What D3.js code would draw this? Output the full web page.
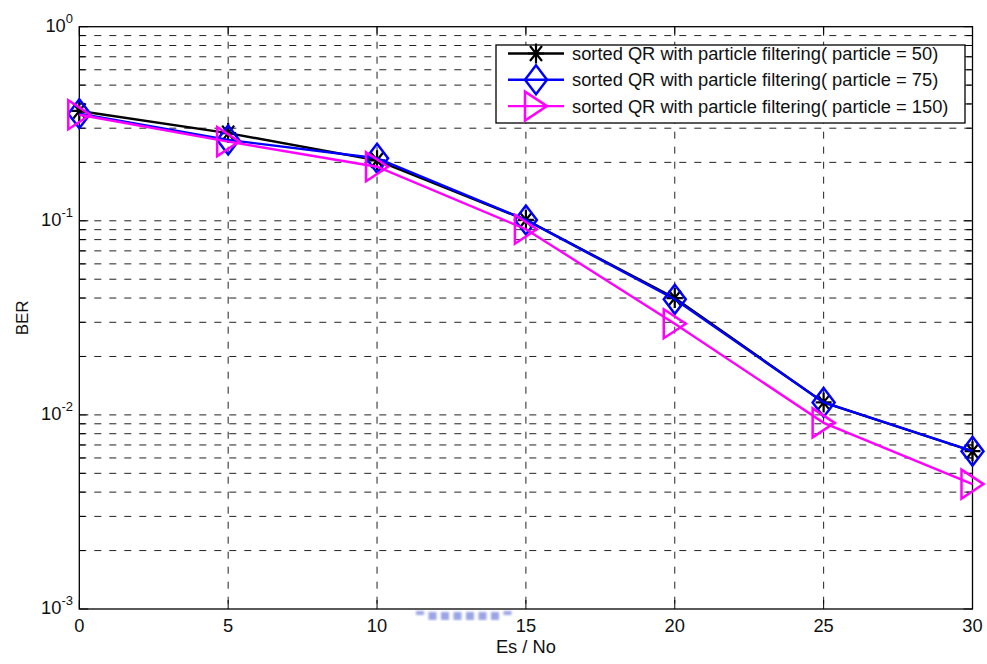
<!DOCTYPE html>
<html>
<head>
<meta charset="utf-8">
<script src="https://cdn.jsdelivr.net/npm/d3@7"></script>
<style>
  html, body { margin: 0; padding: 0; background: #fff; }
  svg text { font-family: "Liberation Sans", Arial, sans-serif; fill: #111; }
</style>
</head>
<body>
<svg id="chart" width="987" height="664"></svg>
<script>
// Es/No (dB) sample points
const snr = [0, 5, 10, 15, 20, 25, 30];
// BER for each particle count
const ber50  = [0.368, 0.283, 0.205, 0.101, 0.0400, 0.0116, 0.0065];
const ber75  = [0.356, 0.261, 0.210, 0.101, 0.0394, 0.0116, 0.0065];
const ber150 = [0.352, 0.256, 0.190, 0.0905, 0.0295, 0.0091, 0.0044];
const seriesNames = [
  "sorted QR with particle filtering( particle = 50)",
  "sorted QR with particle filtering( particle = 75)",
  "sorted QR with particle filtering( particle = 150)"
];
const xTicks = [0, 5, 10, 15, 20, 25, 30];
const yDecades = [-3, -2, -1, 0];

const series = [
  { name: seriesNames[0], values: ber50,  color: "#000000", marker: "star" },
  { name: seriesNames[1], values: ber75,  color: "#0000ff", marker: "diamond" },
  { name: seriesNames[2], values: ber150, color: "#ff00ff", marker: "triangle" }
];

const svg = d3.select("#chart");
const L = 79.3, R = 972.5, T = 26.7, B = 609;
const FS = 18.3;

const x = d3.scaleLinear().domain([0, 30]).range([L, R]);
const y = d3.scaleLog().domain([1e-3, 1]).range([B, T]);

// minor log positions 2..9 per decade
const minorVals = [];
for (let d = -3; d < 0; d++) for (let m = 2; m <= 9; m++) minorVals.push(m * Math.pow(10, d));
const majorVals = yDecades.map(d => Math.pow(10, d));

// grid
const grid = svg.append("g").attr("stroke", "#222").attr("stroke-width", 1)
  .attr("stroke-dasharray", "7,8").attr("fill", "none");
grid.selectAll("line.gy").data(minorVals.concat(majorVals.slice(1, 3)))
  .join("line").attr("x1", L).attr("x2", R).attr("y1", d => y(d)).attr("y2", d => y(d));
grid.selectAll("line.gx").data(xTicks.slice(1, -1))
  .join("line").attr("class", "gx").attr("y1", T).attr("y2", B)
  .attr("x1", d => x(d)).attr("x2", d => x(d));

// ticks (inward, all four sides)
const ticks = svg.append("g").attr("stroke", "#000").attr("stroke-width", 1);
xTicks.forEach(v => {
  ticks.append("line").attr("x1", x(v)).attr("x2", x(v)).attr("y1", B).attr("y2", B - 9);
  ticks.append("line").attr("x1", x(v)).attr("x2", x(v)).attr("y1", T).attr("y2", T + 9);
});
majorVals.forEach(v => {
  ticks.append("line").attr("x1", L).attr("x2", L + 9).attr("y1", y(v)).attr("y2", y(v));
  ticks.append("line").attr("x1", R).attr("x2", R - 9).attr("y1", y(v)).attr("y2", y(v));
});
minorVals.forEach(v => {
  ticks.append("line").attr("x1", L).attr("x2", L + 6).attr("y1", y(v)).attr("y2", y(v));
  ticks.append("line").attr("x1", R).attr("x2", R - 6).attr("y1", y(v)).attr("y2", y(v));
});

// axes box
svg.append("rect").attr("x", L).attr("y", T).attr("width", R - L).attr("height", B - T)
  .attr("fill", "none").attr("stroke", "#000").attr("stroke-width", 1.3);

// tick labels
svg.append("g").selectAll("text").data(xTicks).join("text")
  .attr("x", d => x(d)).attr("y", B + 23).attr("text-anchor", "middle")
  .attr("font-size", FS).text(d => d);

const yl = svg.append("g").selectAll("text").data(yDecades).join("text")
  .attr("x", 73).attr("y", d => y(Math.pow(10, d)) + 5).attr("text-anchor", "end")
  .attr("font-size", FS);
yl.append("tspan").text("10");
yl.append("tspan").attr("font-size", 13).attr("dy", -9).text(d => d);

// axis titles
svg.append("text").attr("x", (L + R) / 2).attr("y", 653).attr("text-anchor", "middle")
  .attr("font-size", FS).text("Es / No");
svg.append("text").attr("transform", `translate(28,${(T + B) / 2}) rotate(-90)`)
  .attr("text-anchor", "middle").attr("font-size", 17).text("BER");

// marker shapes
function drawMarker(g, type, color) {
  if (type === "star") {
    const p = "M-8,0H8M0,-10V10M-6,-7.5L6,7.5M-6,7.5L6,-7.5";
    g.append("path").attr("d", p).attr("stroke", color).attr("stroke-width", 2.2).attr("fill", "none");
  } else if (type === "diamond") {
    g.append("path").attr("d", "M0,-14.5L11,0L0,14.5L-11,0Z")
      .attr("stroke", color).attr("stroke-width", 2.5).attr("fill", "none");
  } else {
    g.append("path").attr("d", "M-11,-14.5L11,0L-11,14.5Z")
      .attr("stroke", color).attr("stroke-width", 2.5).attr("fill", "none");
  }
}

// lines and markers
const line = d3.line().x((d, i) => x(snr[i])).y(d => y(d));
series.forEach(s => {
  svg.append("path").attr("d", line(s.values)).attr("fill", "none")
    .attr("stroke", s.color).attr("stroke-width", 2.4);
  s.values.forEach((v, i) => {
    const g = svg.append("g").attr("transform", `translate(${x(snr[i])},${y(v)})`);
    drawMarker(g, s.marker, s.color);
  });
});

// legend
const lg = svg.append("g");
lg.append("rect").attr("x", 496).attr("y", 45).attr("width", 469).attr("height", 78)
  .attr("fill", "#fff").attr("stroke", "#000").attr("stroke-width", 1.3);
series.forEach((s, i) => {
  const cy = 53.5 + i * 26.3;
  lg.append("line").attr("x1", 508).attr("x2", 564).attr("y1", cy).attr("y2", cy)
    .attr("stroke", s.color).attr("stroke-width", 2.4);
  const g = lg.append("g").attr("transform", `translate(536,${cy})`);
  drawMarker(g, s.marker, s.color);
  lg.append("text").attr("x", 572).attr("y", cy + 6.5).attr("font-size", FS).text(s.name);
});

// faint mark under the axis
const defs = svg.append("defs");
defs.append("filter").attr("id", "soft").append("feGaussianBlur").attr("stdDeviation", 1.1);
const wm = svg.append("g").attr("filter", "url(#soft)").attr("fill", "#6f80dc").attr("opacity", 0.7);
d3.range(8).forEach(k => {
  const edge = (k === 0 || k === 7);
  wm.append("rect").attr("x", 416 + k * 12.5).attr("y", edge ? 611 : 612)
    .attr("width", 8).attr("height", edge ? 4 : 8);
});
</script>
</body>
</html>
